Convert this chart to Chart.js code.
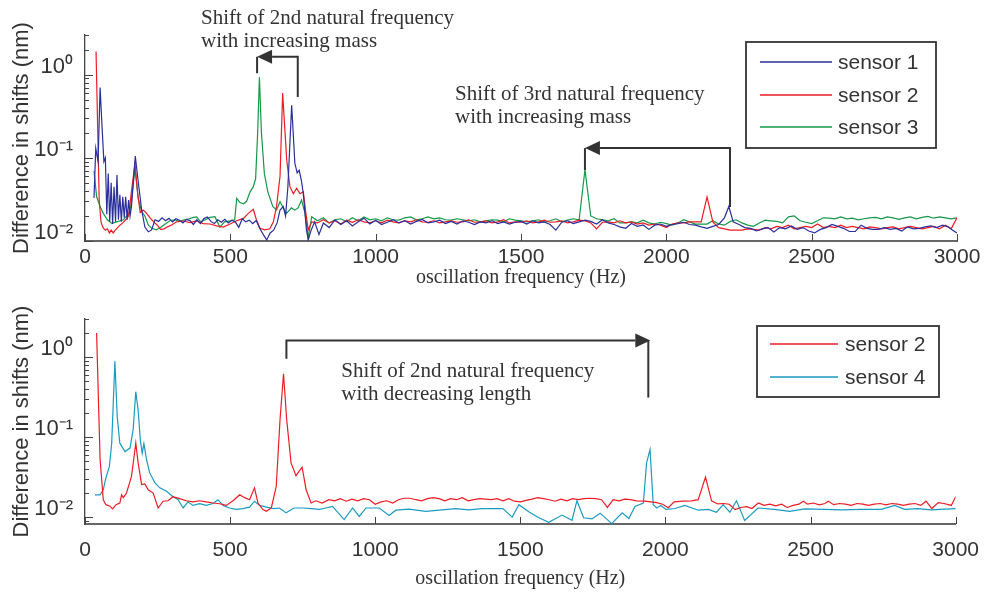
<!DOCTYPE html>
<html>
<head>
<meta charset="utf-8">
<script src="https://cdn.jsdelivr.net/npm/chart.js@4.4.1/dist/chart.umd.min.js"></script>
<style>
  html, body { margin: 0; padding: 0; background: #fff; }
  #wrap { position: relative; width: 985px; height: 592px; }
  canvas { position: absolute; left: 0; }
  #top { top: 0; }
  #bottom { top: 296px; }
</style>
</head>
<body>
<div id="wrap">
  <canvas id="top" width="985" height="296"></canvas>
  <canvas id="bottom" width="985" height="296"></canvas>
</div>
<script>
// ---- upper plot: sensors 1-3 (added mass) ----
const s1Freq = [31, 37, 45, 52, 58, 65, 70, 75, 80, 85, 90, 95, 100, 105, 110, 115, 120, 125, 130, 135,
  140, 145, 150, 155, 160, 166, 173, 183, 195, 206, 218, 229, 241, 253, 265, 277, 289, 301, 313, 325,
  337, 349, 361, 373, 385, 397, 409, 421, 433, 445, 457, 469, 481, 493, 505, 517, 529, 541, 553, 565,
  577, 589, 601, 613, 625, 637, 649, 661, 671, 682, 690, 698, 711, 722, 730, 737, 745, 751, 762, 768,
  778, 790, 805, 820, 840, 860, 880, 900, 920, 940, 960, 980, 1000, 1020, 1040, 1060, 1080, 1100, 1120, 1140,
  1160, 1180, 1200, 1220, 1240, 1260, 1280, 1300, 1320, 1340, 1360, 1380, 1400, 1420, 1440, 1460, 1480, 1500, 1520, 1540,
  1560, 1580, 1600, 1620, 1640, 1660, 1680, 1700, 1720, 1740, 1760, 1780, 1800, 1820, 1840, 1860, 1880, 1900, 1920, 1940,
  1960, 1980, 2000, 2020, 2040, 2060, 2080, 2100, 2120, 2140, 2160, 2180, 2200, 2215, 2230, 2250, 2270, 2290, 2310, 2330,
  2350, 2370, 2390, 2410, 2430, 2450, 2470, 2490, 2510, 2530, 2550, 2570, 2590, 2610, 2630, 2650, 2670, 2690, 2710, 2730,
  2750, 2770, 2790, 2810, 2830, 2850, 2870, 2890, 2910, 2930, 2950, 2970, 2985, 3000];
const s1Shift = [0.033, 0.13, 0.09, 0.70, 0.26, 0.09, 0.10, 0.021, 0.065, 0.017, 0.05, 0.016, 0.045, 0.017, 0.062, 0.018, 0.036, 0.017, 0.034, 0.019,
  0.034, 0.018, 0.031, 0.02, 0.026, 0.05, 0.105, 0.052, 0.0236, 0.0147, 0.0129, 0.0136, 0.018, 0.0172, 0.019, 0.0175, 0.0187, 0.017, 0.0185, 0.0178,
  0.0165, 0.0182, 0.0176, 0.0158, 0.018, 0.0162, 0.0186, 0.0195, 0.0172, 0.0162, 0.018, 0.0168, 0.0182, 0.0165, 0.0178, 0.017, 0.0146, 0.0185, 0.017, 0.0178,
  0.0162, 0.0176, 0.0142, 0.012, 0.0103, 0.0125, 0.0135, 0.0165, 0.0236, 0.026, 0.02, 0.045, 0.43, 0.086, 0.066, 0.071, 0.052, 0.037, 0.0135, 0.0103,
  0.0135, 0.017, 0.012, 0.0165, 0.0145, 0.018, 0.0158, 0.0175, 0.0152, 0.017, 0.0188, 0.016, 0.0178, 0.0158, 0.0168, 0.018, 0.0165, 0.0176, 0.016, 0.0172,
  0.0182, 0.0165, 0.017, 0.0178, 0.0162, 0.0172, 0.016, 0.0175, 0.0168, 0.0158, 0.017, 0.0165, 0.0175, 0.0162, 0.017, 0.016, 0.0168, 0.0172, 0.016, 0.0175,
  0.0165, 0.017, 0.0158, 0.0135, 0.0168, 0.0175, 0.0162, 0.017, 0.0178, 0.0172, 0.016, 0.018, 0.0165, 0.0158, 0.0148, 0.0142, 0.0162, 0.015, 0.0156, 0.0138,
  0.0155, 0.016, 0.015, 0.0158, 0.0162, 0.0168, 0.0158, 0.0155, 0.0148, 0.0142, 0.015, 0.0158, 0.019, 0.026, 0.017, 0.0158, 0.0145, 0.0142, 0.0132, 0.014,
  0.0145, 0.0128, 0.0145, 0.014, 0.0152, 0.0138, 0.0145, 0.0132, 0.0125, 0.0138, 0.0145, 0.0158, 0.015, 0.0142, 0.013, 0.013, 0.0155, 0.0142, 0.0138, 0.0138,
  0.0145, 0.0138, 0.0142, 0.0132, 0.0148, 0.014, 0.0142, 0.0148, 0.0152, 0.0145, 0.0155, 0.0148, 0.0135, 0.0125];

const s2Freq = [38, 49, 55, 62, 70, 77, 84, 90, 97, 104, 112, 120, 130, 140, 150, 160, 172, 182, 190, 200,
  212, 224, 236, 248, 260, 272, 284, 298, 315, 338, 361, 384, 407, 430, 453, 476, 499, 522, 545, 562,
  579, 590, 602, 619, 636, 648, 659, 671, 680, 694, 705, 717, 728, 740, 751, 760, 768, 780, 800, 820,
  840, 860, 880, 900, 920, 940, 960, 980, 1000, 1020, 1040, 1060, 1080, 1100, 1120, 1140, 1160, 1180, 1200, 1220,
  1240, 1260, 1280, 1300, 1320, 1340, 1360, 1380, 1400, 1420, 1440, 1460, 1480, 1500, 1520, 1540, 1560, 1580, 1600, 1620,
  1640, 1660, 1680, 1700, 1720, 1740, 1760, 1780, 1800, 1820, 1840, 1860, 1880, 1900, 1920, 1940, 1960, 1980, 2000, 2020,
  2040, 2060, 2080, 2100, 2120, 2140, 2160, 2180, 2200, 2220, 2240, 2260, 2280, 2300, 2320, 2340, 2360, 2380, 2400, 2420,
  2440, 2460, 2480, 2500, 2520, 2540, 2560, 2580, 2600, 2620, 2640, 2660, 2680, 2700, 2720, 2740, 2760, 2780, 2800, 2820,
  2840, 2860, 2880, 2900, 2920, 2940, 2960, 2980, 3000];
const s2Shift = [1.9, 0.03, 0.017, 0.0145, 0.0135, 0.014, 0.0125, 0.0135, 0.0125, 0.0135, 0.0145, 0.0155, 0.0165, 0.018, 0.02, 0.04, 0.085, 0.035, 0.022, 0.0235,
  0.0215, 0.019, 0.017, 0.0156, 0.0138, 0.014, 0.0148, 0.0156, 0.017, 0.0174, 0.0166, 0.0174, 0.0162, 0.016, 0.0152, 0.0147, 0.016, 0.0175, 0.0187, 0.0215,
  0.024, 0.0179, 0.0142, 0.0136, 0.014, 0.017, 0.026, 0.06, 0.6, 0.094, 0.045, 0.037, 0.043, 0.037, 0.039, 0.0215, 0.0136, 0.017, 0.0165, 0.018,
  0.0165, 0.0175, 0.016, 0.0178, 0.0168, 0.018, 0.017, 0.0165, 0.0175, 0.0165, 0.0178, 0.017, 0.0165, 0.0175, 0.017, 0.018, 0.017, 0.0168, 0.0175, 0.0165,
  0.017, 0.0175, 0.0168, 0.017, 0.018, 0.0168, 0.017, 0.0175, 0.0165, 0.017, 0.018, 0.0165, 0.017, 0.0168, 0.0175, 0.0165, 0.017, 0.0178, 0.0168, 0.017,
  0.0175, 0.0165, 0.017, 0.0178, 0.0175, 0.0165, 0.014, 0.0168, 0.017, 0.0165, 0.0175, 0.0165, 0.017, 0.016, 0.0165, 0.0155, 0.016, 0.0155, 0.0145, 0.016,
  0.0165, 0.0165, 0.017, 0.017, 0.017, 0.034, 0.017, 0.0145, 0.014, 0.0135, 0.0135, 0.0135, 0.014, 0.0138, 0.0135, 0.0145, 0.014, 0.015, 0.0145, 0.0155,
  0.014, 0.0145, 0.015, 0.0145, 0.016, 0.0145, 0.015, 0.0145, 0.0155, 0.0145, 0.015, 0.0145, 0.014, 0.0148, 0.0145, 0.014, 0.0145, 0.0148, 0.014, 0.0145,
  0.015, 0.0145, 0.014, 0.0145, 0.015, 0.014, 0.0155, 0.014, 0.019];

const s3Freq = [31, 40, 52, 63, 77, 92, 109, 132, 155, 172, 183, 195, 206, 218, 230, 245, 260, 276, 292, 308,
  325, 342, 358, 373, 384, 398, 414, 430, 447, 464, 480, 500, 515, 522, 533, 545, 556, 568, 579, 587,
  594, 600, 607, 617, 629, 646, 659, 671, 682, 694, 710, 722, 733, 745, 757, 768, 780, 800, 820, 840,
  860, 880, 900, 920, 940, 960, 980, 1000, 1020, 1040, 1060, 1080, 1100, 1120, 1140, 1160, 1180, 1200, 1220, 1240,
  1260, 1280, 1300, 1320, 1340, 1360, 1380, 1400, 1420, 1440, 1460, 1480, 1500, 1520, 1540, 1560, 1580, 1600, 1620, 1640,
  1660, 1680, 1700, 1720, 1740, 1760, 1780, 1800, 1820, 1840, 1860, 1880, 1900, 1920, 1940, 1960, 1980, 2000, 2020, 2040,
  2060, 2080, 2100, 2120, 2140, 2160, 2180, 2200, 2220, 2240, 2260, 2280, 2300, 2320, 2340, 2360, 2380, 2400, 2420, 2440,
  2460, 2480, 2500, 2520, 2540, 2560, 2580, 2600, 2620, 2640, 2660, 2680, 2700, 2720, 2740, 2760, 2780, 2800, 2820, 2840,
  2860, 2880, 2900, 2920, 2940, 2960, 2980, 3000];
const s3Shift = [0.07, 0.034, 0.026, 0.0215, 0.018, 0.0163, 0.017, 0.018, 0.0225, 0.074, 0.0325, 0.0225, 0.02, 0.0155, 0.0142, 0.0136, 0.0145, 0.016, 0.0175, 0.018,
  0.0172, 0.018, 0.0185, 0.0192, 0.0195, 0.017, 0.018, 0.0192, 0.0196, 0.0147, 0.017, 0.0175, 0.018, 0.0325, 0.029, 0.028, 0.03, 0.039, 0.045, 0.056,
  0.2, 0.93, 0.2, 0.065, 0.039, 0.026, 0.0236, 0.0297, 0.025, 0.0215, 0.025, 0.0235, 0.025, 0.031, 0.0215, 0.011, 0.0196, 0.0175, 0.019, 0.0165,
  0.018, 0.0185, 0.017, 0.019, 0.0175, 0.0195, 0.018, 0.0185, 0.0175, 0.019, 0.018, 0.0178, 0.019, 0.0195, 0.018, 0.0185, 0.0195, 0.0185, 0.019, 0.018,
  0.0178, 0.0185, 0.018, 0.0175, 0.018, 0.017, 0.0175, 0.018, 0.0178, 0.017, 0.0185, 0.0178, 0.0175, 0.017, 0.0175, 0.018, 0.0168, 0.0175, 0.0185, 0.017,
  0.0178, 0.0185, 0.018, 0.072, 0.02, 0.0185, 0.018, 0.0175, 0.0185, 0.0165, 0.0165, 0.017, 0.0165, 0.0178, 0.0165, 0.016, 0.0168, 0.0162, 0.0155, 0.0165,
  0.018, 0.017, 0.016, 0.016, 0.016, 0.0175, 0.016, 0.0155, 0.0172, 0.018, 0.0165, 0.0155, 0.015, 0.0165, 0.0178, 0.0175, 0.0172, 0.0165, 0.0195, 0.02,
  0.0175, 0.0168, 0.0162, 0.0175, 0.019, 0.0188, 0.0185, 0.0195, 0.0185, 0.0188, 0.018, 0.0185, 0.019, 0.0192, 0.0185, 0.0195, 0.019, 0.0182, 0.019, 0.0195,
  0.0185, 0.0192, 0.0198, 0.0188, 0.0195, 0.019, 0.0185, 0.019];

// ---- lower plot: sensors 2 and 4 (shorter beam) ----
const b2Freq = [40, 52, 63, 72, 86, 95, 107, 120, 126, 132, 143, 160, 175, 183, 195, 206, 218, 235, 252, 269,
  286, 303, 326, 349, 372, 395, 418, 441, 464, 487, 510, 533, 550, 567, 584, 596, 613, 625, 642, 659,
  672, 684, 695, 710, 727, 748, 762, 779, 796, 817, 840, 860, 880, 900, 920, 940, 960, 980, 1000, 1020,
  1040, 1060, 1080, 1100, 1120, 1140, 1160, 1180, 1200, 1220, 1240, 1260, 1280, 1300, 1320, 1340, 1360, 1380, 1400, 1420,
  1440, 1460, 1480, 1500, 1520, 1540, 1560, 1580, 1600, 1620, 1640, 1660, 1680, 1700, 1720, 1740, 1760, 1780, 1800, 1820,
  1840, 1860, 1880, 1900, 1930, 1950, 1970, 1990, 2010, 2030, 2060, 2090, 2113, 2138, 2159, 2180, 2200, 2220, 2240, 2260,
  2280, 2298, 2320, 2340, 2360, 2380, 2400, 2420, 2440, 2460, 2475, 2490, 2510, 2530, 2550, 2561, 2580, 2600, 2620, 2640,
  2660, 2680, 2700, 2720, 2740, 2760, 2780, 2800, 2820, 2840, 2860, 2880, 2898, 2918, 2940, 2960, 2985, 3000];
const b2Shift = [2.0, 0.0525, 0.0165, 0.0143, 0.0137, 0.0127, 0.0143, 0.015, 0.019, 0.0175, 0.02, 0.032, 0.084, 0.048, 0.0255, 0.026, 0.022, 0.02, 0.013, 0.0158,
  0.016, 0.018, 0.017, 0.016, 0.0155, 0.016, 0.0155, 0.015, 0.0147, 0.014, 0.016, 0.019, 0.0175, 0.0165, 0.0232, 0.015, 0.0124, 0.0118, 0.013, 0.0243,
  0.165, 0.62, 0.165, 0.0476, 0.033, 0.042, 0.022, 0.015, 0.016, 0.015, 0.0165, 0.016, 0.017, 0.0158, 0.0168, 0.016, 0.017, 0.0165, 0.0145, 0.0155,
  0.016, 0.015, 0.0165, 0.0172, 0.0172, 0.0165, 0.016, 0.017, 0.0175, 0.017, 0.016, 0.017, 0.0165, 0.0175, 0.016, 0.0165, 0.017, 0.0168, 0.0165, 0.017,
  0.016, 0.017, 0.0158, 0.0155, 0.0162, 0.0168, 0.0175, 0.017, 0.0165, 0.0158, 0.0168, 0.016, 0.017, 0.0165, 0.017, 0.0172, 0.017, 0.0165, 0.0132, 0.0165,
  0.016, 0.0168, 0.0165, 0.016, 0.0158, 0.0155, 0.0152, 0.0145, 0.0131, 0.0155, 0.0158, 0.016, 0.0165, 0.0316, 0.016, 0.0146, 0.0148, 0.0145, 0.0124, 0.0132,
  0.0135, 0.0128, 0.015, 0.014, 0.0145, 0.0138, 0.0145, 0.0132, 0.014, 0.0145, 0.0158, 0.0145, 0.015, 0.0142, 0.0148, 0.0158, 0.0143, 0.0148, 0.0145, 0.014,
  0.0148, 0.0145, 0.014, 0.0145, 0.0148, 0.0142, 0.0148, 0.0145, 0.014, 0.0145, 0.0148, 0.014, 0.0158, 0.0128, 0.0152, 0.0148, 0.014, 0.018];

const b4Freq = [34, 52, 63, 72, 84, 92, 103, 111, 120, 138, 155, 166, 175, 183, 191, 197, 203, 212, 223, 241,
  258, 281, 303, 321, 338, 355, 372, 395, 418, 441, 458, 476, 498, 521, 544, 567, 584, 602, 625, 650,
  670, 693, 720, 750, 780, 808, 830, 853, 893, 922, 945, 968, 1014, 1048, 1071, 1117, 1174, 1231, 1277, 1323,
  1369, 1414, 1440, 1472, 1495, 1529, 1564, 1598, 1644, 1678, 1695, 1718, 1747, 1775, 1815, 1851, 1874, 1895, 1924, 1935,
  1947, 1958, 1970, 1984, 2002, 2033, 2067, 2113, 2148, 2176, 2199, 2222, 2245, 2273, 2319, 2376, 2428, 2480, 2549, 2606,
  2675, 2744, 2790, 2824, 2870, 2916, 2962, 3000];
const b4Shift = [0.019, 0.019, 0.022, 0.031, 0.043, 0.084, 0.886, 0.181, 0.084, 0.066, 0.073, 0.124, 0.37, 0.22, 0.089, 0.063, 0.083, 0.0525, 0.0357, 0.0268,
  0.0232, 0.021, 0.018, 0.0165, 0.013, 0.0155, 0.014, 0.0147, 0.014, 0.0148, 0.0165, 0.014, 0.013, 0.0125, 0.0128, 0.0133, 0.0158, 0.014, 0.0133, 0.0128,
  0.013, 0.0113, 0.013, 0.013, 0.0128, 0.0125, 0.013, 0.0136, 0.0093, 0.013, 0.0102, 0.013, 0.013, 0.0105, 0.0122, 0.0126, 0.0118, 0.0123, 0.0128, 0.0123,
  0.0128, 0.0128, 0.0128, 0.01, 0.0143, 0.0117, 0.0098, 0.0086, 0.0106, 0.0091, 0.016, 0.0098, 0.0095, 0.0112, 0.0083, 0.0113, 0.0096, 0.0136, 0.015, 0.0476,
  0.07, 0.0143, 0.013, 0.014, 0.0125, 0.0128, 0.014, 0.0122, 0.0125, 0.0115, 0.0143, 0.0115, 0.016, 0.0091, 0.013, 0.0125, 0.0118, 0.0127, 0.0125, 0.0123,
  0.0125, 0.0125, 0.014, 0.0125, 0.0128, 0.0123, 0.0126, 0.0128];

// ---- axes ----
const xTickVals = [0, 500, 1000, 1500, 2000, 2500, 3000];
const xTickLabels = ['0', '500', '1000', '1500', '2000', '2500', '3000'];
const yMajorVals = [0.01, 0.1, 1];
const yMajorLabels = ['10\u207B\u00B2', '10\u207B\u00B9', '10\u2070'];
const yMinorTop = [0.02, 0.03, 0.04, 0.05, 0.06, 0.07, 0.08, 0.09, 0.2, 0.3, 0.4, 0.5, 0.6, 0.7, 0.8, 0.9, 2, 3];
const yMinorBottom = [0.009, 0.02, 0.03, 0.04, 0.05, 0.06, 0.07, 0.08, 0.09, 0.2, 0.3, 0.4, 0.5, 0.6, 0.7, 0.8, 0.9, 2, 3];

// ---- annotations (data coordinates: Hz, nm) ----
const topNotes = [
  { at: [399, 4.06], lines: ['Shift of 2nd natural frequency', 'with increasing mass'] },
  { at: [1273, 0.495], lines: ['Shift of 3rd natural frequency', 'with increasing mass'] }
];
const topArrows = [
  { path: [[732, 0.54], [732, 1.64], [592, 1.64]], drop: [[592, 1.64], [592, 1.04]] },
  { path: [[2219, 0.0257], [2219, 0.131], [1720, 0.131]], drop: [[1720, 0.131], [1720, 0.0713]] }
];
const bottomNotes = [
  { at: [883, 0.571], lines: ['Shift of 2nd natural frequency', 'with decreasing length'] }
];
const bottomArrows = [
  { path: [[694, 0.957], [694, 1.61], [1948, 1.61]], drop: [[1941, 1.61], [1941, 0.312]] }
];

const INK = '#333';
const SANS = '"Liberation Sans", Arial, Helvetica, sans-serif';
const SERIF = '"Liberation Serif", "Times New Roman", serif';

function pts(xs, ys) {
  return xs.map((x, i) => ({ x: x, y: ys[i] }));
}

function axisTicks(minor) {
  return {
    id: 'axisTicks',
    afterDraw(chart) {
      const { ctx, chartArea: a, scales: { x, y } } = chart;
      ctx.save();
      ctx.strokeStyle = '#444';
      ctx.lineWidth = 1;
      ctx.beginPath();
      yMajorVals.concat(minor).forEach(v => {
        const py = Math.round(y.getPixelForValue(v)) + 0.5;
        const len = yMajorVals.includes(v) ? 8 : 4;
        ctx.moveTo(a.left, py);
        ctx.lineTo(a.left + len, py);
      });
      xTickVals.forEach(v => {
        const px = Math.round(x.getPixelForValue(v)) + 0.5;
        ctx.moveTo(px, a.bottom);
        ctx.lineTo(px, a.bottom - 7);
      });
      ctx.stroke();
      ctx.restore();
    }
  };
}

function notes(texts, arrows) {
  return {
    id: 'notes',
    afterDatasetsDraw(chart) {
      const { ctx, scales: { x, y } } = chart;
      const px = p => [x.getPixelForValue(p[0]), y.getPixelForValue(p[1])];
      ctx.save();
      ctx.fillStyle = INK;
      ctx.strokeStyle = INK;
      ctx.lineWidth = 2;
      ctx.font = '21px ' + SERIF;
      ctx.textBaseline = 'alphabetic';
      ctx.textAlign = 'left';
      texts.forEach(t => {
        const [tx, ty] = px(t.at);
        t.lines.forEach((s, i) => ctx.fillText(s, tx, ty + i * 23));
      });
      arrows.forEach(a => {
        const p = a.path.map(px);
        const [ex, ey] = p[p.length - 1];
        const dir = Math.sign(ex - p[p.length - 2][0]);
        const head = 15, half = 7;
        ctx.beginPath();
        p.forEach(([u, v], i) => {
          if (i === 0) ctx.moveTo(u, v);
          else ctx.lineTo(i === p.length - 1 ? u - dir * head : u, v);
        });
        ctx.stroke();
        ctx.beginPath();
        ctx.moveTo(ex, ey);
        ctx.lineTo(ex - dir * head, ey - half);
        ctx.lineTo(ex - dir * head, ey + half);
        ctx.closePath();
        ctx.fill();
        const d = a.drop.map(px);
        ctx.beginPath();
        ctx.moveTo(d[0][0], d[0][1]);
        ctx.lineTo(d[1][0], d[1][1]);
        ctx.stroke();
      });
      ctx.restore();
    }
  };
}

function boxLegend(box) {
  return {
    id: 'boxLegend',
    afterDraw(chart) {
      const ctx = chart.ctx;
      ctx.save();
      ctx.fillStyle = '#fff';
      ctx.fillRect(box.left, box.top, box.right - box.left, box.bottom - box.top);
      ctx.strokeStyle = INK;
      ctx.lineWidth = 1.8;
      ctx.strokeRect(box.left, box.top, box.right - box.left, box.bottom - box.top);
      ctx.font = '21px ' + SANS;
      ctx.textBaseline = 'middle';
      ctx.textAlign = 'left';
      chart.data.datasets.forEach((ds, i) => {
        const yy = box.rows[i];
        ctx.strokeStyle = ds.borderColor;
        ctx.lineWidth = 1.3;
        ctx.beginPath();
        ctx.moveTo(box.lineFrom, yy);
        ctx.lineTo(box.lineTo, yy);
        ctx.stroke();
        ctx.fillStyle = INK;
        ctx.fillText(ds.label, box.textX, yy + 1);
      });
      ctx.restore();
    }
  };
}

function line(label, xs, ys, color) {
  return {
    label: label, data: pts(xs, ys), borderColor: color, backgroundColor: color,
    borderWidth: 1.2, pointRadius: 0, tension: 0, fill: false
  };
}

function makeOptions(cfg) {
  return {
    responsive: false,
    animation: false,
    events: [],
    layout: { padding: { top: cfg.padTop, right: 28, left: 0, bottom: 0 } },
    plugins: { legend: { display: false }, tooltip: { enabled: false } },
    scales: {
      x: {
        type: 'linear', min: 0, max: 3000,
        afterFit: s => { s.height = cfg.xHeight; },
        afterBuildTicks: s => { s.ticks = xTickVals.map(v => ({ value: v })); },
        grid: { display: false },
        border: { display: true, color: '#666', width: 2 },
        ticks: {
          autoSkip: false, maxRotation: 0, padding: cfg.xLabelPad, color: INK,
          font: { family: SANS, size: 21 },
          callback: v => xTickLabels[xTickVals.indexOf(v)]
        },
        title: {
          display: true, text: 'oscillation frequency (Hz)', color: INK,
          font: { family: SERIF, size: 20 }, padding: { top: 0, bottom: cfg.xTitlePad }
        }
      },
      y: {
        type: 'logarithmic', min: cfg.yMin, max: 3,
        afterFit: s => { s.width = 85; },
        afterBuildTicks: s => { s.ticks = yMajorVals.concat(cfg.minor).sort((a, b) => a - b).map(v => ({ value: v })); },
        grid: { display: false },
        border: { display: true, color: '#444', width: 1.3 },
        ticks: {
          autoSkip: false, padding: 4, labelOffset: -8, color: INK,
          font: { family: SANS, size: 22 },
          callback: v => {
            const k = yMajorVals.findIndex(m => Math.abs(m - v) < 1e-9);
            return k < 0 ? '' : yMajorLabels[k];
          }
        },
        title: {
          display: true, text: 'Difference in shifts (nm)', color: INK,
          font: { family: SANS, size: 22 }, padding: { top: 9, bottom: 0 }
        }
      }
    }
  };
}

new Chart(document.getElementById('top'), {
  type: 'line',
  data: {
    datasets: [
      line('sensor 1', s1Freq, s1Shift, '#2b2f9a'),
      line('sensor 2', s2Freq, s2Shift, '#ed1c24'),
      line('sensor 3', s3Freq, s3Shift, '#159848')
    ]
  },
  options: makeOptions({ padTop: 35, xHeight: 55, xLabelPad: -4, xTitlePad: 6, yMin: 0.01, minor: yMinorTop }),
  plugins: [
    axisTicks(yMinorTop),
    notes(topNotes, topArrows),
    boxLegend({ left: 746, top: 42, right: 936, bottom: 148, rows: [62, 95, 127], lineFrom: 760, lineTo: 832, textX: 838 })
  ]
});

new Chart(document.getElementById('bottom'), {
  type: 'line',
  data: {
    datasets: [
      line('sensor 2', b2Freq, b2Shift, '#ed1c24'),
      line('sensor 4', b4Freq, b4Shift, '#1b9ac1')
    ]
  },
  options: makeOptions({ padTop: 23, xHeight: 68, xLabelPad: 6, xTitlePad: 1, yMin: 0.0082, minor: yMinorBottom }),
  plugins: [
    axisTicks(yMinorBottom),
    notes(bottomNotes, bottomArrows),
    boxLegend({ left: 757, top: 30, right: 939, bottom: 101, rows: [48, 81], lineFrom: 770, lineTo: 838, textX: 845 })
  ]
});
</script>
</body>
</html>
